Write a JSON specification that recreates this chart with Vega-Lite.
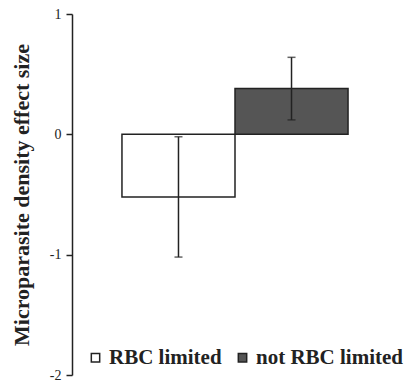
{
  "$schema": "https://vega.github.io/schema/vega-lite/v6.json",
  "width": 326,
  "height": 361,
  "autosize": {"type": "none"},
  "padding": {"left": 72, "top": 14, "right": 9, "bottom": 8},
  "background": "white",
  "config": {
    "view": {"stroke": null},
    "font": "Liberation Serif, Times New Roman, serif",
    "axis": {"domainColor": "#222", "tickColor": "#222", "labelColor": "#222", "titleColor": "#222"},
    "legend": {"labelFont": "Liberation Serif, Times New Roman, serif"}
  },
  "data": {
    "values": [
      {"group": "RBC limited", "effect": -0.52, "lo": -1.02, "hi": -0.02},
      {"group": "not RBC limited", "effect": 0.38, "lo": 0.12, "hi": 0.64}
    ]
  },
  "encoding": {
    "x": {
      "field": "group",
      "type": "nominal",
      "sort": ["RBC limited", "not RBC limited"],
      "scale": {"paddingInner": 0, "paddingOuter": 0.442},
      "axis": null
    }
  },
  "layer": [
    {
      "mark": {"type": "bar", "stroke": "#222", "strokeWidth": 1.5},
      "encoding": {
        "y": {
          "field": "effect",
          "type": "quantitative",
          "scale": {"domain": [-2, 1], "nice": false, "zero": false},
          "axis": {
            "values": [1, 0, -1, -2],
            "labelExpr": "'' + datum.value",
            "grid": false,
            "tickSize": 6,
            "tickWidth": 1.5,
            "domainWidth": 1.5,
            "labelPadding": 5,
            "labelFontSize": 14,
            "labelFont": "Liberation Serif, Times New Roman, serif",
            "title": "Microparasite density effect size",
            "titleFont": "Liberation Serif, Times New Roman, serif",
            "titleFontSize": 22,
            "titleFontWeight": "bold",
            "titlePadding": 16
          }
        },
        "y2": {"datum": 0},
        "fill": {
          "field": "group",
          "type": "nominal",
          "scale": {"domain": ["RBC limited", "not RBC limited"], "range": ["white", "#555555"]},
          "legend": {
            "title": null,
            "orient": "none",
            "direction": "horizontal",
            "legendX": 13,
            "legendY": 333,
            "padding": 0,
            "symbolType": "square",
            "symbolSize": 70,
            "symbolStrokeColor": "#222",
            "symbolStrokeWidth": 1.5,
            "labelFont": "Liberation Serif, Times New Roman, serif",
            "labelFontSize": 21,
            "labelFontWeight": "bold",
            "labelColor": "#222",
            "labelOffset": 3,
            "columnPadding": 10,
            "labelLimit": 300
          }
        }
      }
    },
    {
      "mark": {"type": "rule", "color": "#222", "strokeWidth": 1.5},
      "encoding": {"y": {"datum": 0}}
    },
    {
      "mark": {"type": "rule", "color": "#222", "strokeWidth": 1.5},
      "encoding": {
        "y": {"field": "lo", "type": "quantitative"},
        "y2": {"field": "hi"}
      }
    },
    {
      "mark": {"type": "tick", "color": "#222", "thickness": 1.5, "size": 8},
      "encoding": {"y": {"field": "lo", "type": "quantitative"}}
    },
    {
      "mark": {"type": "tick", "color": "#222", "thickness": 1.5, "size": 8},
      "encoding": {"y": {"field": "hi", "type": "quantitative"}}
    }
  ]
}
